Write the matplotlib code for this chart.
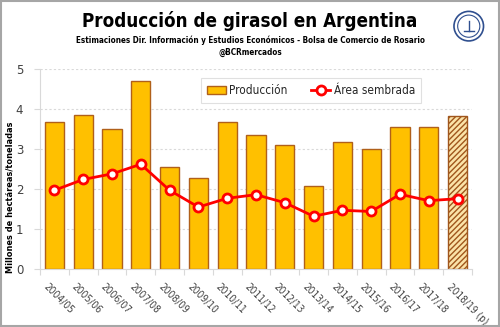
import matplotlib
matplotlib.use("Agg")
import matplotlib.pyplot as plt
from matplotlib.patches import Rectangle, Circle
from matplotlib.font_manager import fontManager, FontProperties
import matplotlib.transforms as mtransforms
import numpy as np

campaigns = ["2004/05", "2005/06", "2006/07", "2007/08", "2008/09", "2009/10", "2010/11",
             "2011/12", "2012/13", "2013/14", "2014/15", "2015/16", "2016/17", "2017/18",
             "2018/19 (p)"]
produccion = [3.68, 3.86, 3.51, 4.71, 2.54, 2.27, 3.68, 3.34, 3.11, 2.07, 3.17, 3.01, 3.56, 3.55, 3.82]
area = [1.97, 2.24, 2.38, 2.62, 1.97, 1.55, 1.77, 1.86, 1.66, 1.32, 1.47, 1.44, 1.87, 1.71, 1.76]
yticks = [0, 1, 2, 3, 4, 5]

# find condensed fonts if available
def find_cond(bold):
    out = []
    for f in fontManager.ttflist:
        nm = f.name
        cond = ("Narrow" in nm) or ("Condensed" in nm) or (str(f.stretch) in ("condensed", "semi-condensed", "extra-condensed"))
        w = f.weight if isinstance(f.weight, int) else (700 if "bold" in str(f.weight).lower() else 400)
        ok_w = (w >= 600) if bold else (w < 600)
        if cond and ok_w and "Oblique" not in f.fname and "Italic" not in f.fname:
            out.append(f.fname)
    out.sort()
    return out

cb = find_cond(True)
cr = find_cond(False)
def bfont(size):
    if cb:
        return FontProperties(fname=cb[0], size=size)
    return FontProperties(family="DejaVu Sans", weight="bold", size=size * 0.9)
def rfont(size):
    if cr:
        return FontProperties(fname=cr[0], size=size)
    return FontProperties(family="DejaVu Sans", size=size * 0.9)

fig = plt.figure(figsize=(5.0, 3.27), dpi=100)
fig.patches.append(Rectangle((0.002, 0.003), 0.996, 0.994, transform=fig.transFigure,
                             fill=False, edgecolor="#a6a6a6", linewidth=1.5))
ax = fig.add_axes([0.08, 0.177, 0.864, 0.612])

x = np.arange(len(campaigns))
bars = ax.bar(x, produccion, width=0.66, color="#FFC000", edgecolor="#B0601A",
              linewidth=1.0, label="Producción", zorder=2)
bars[-1].set_facecolor("#FBE3A8")
bars[-1].set_hatch("//////")
bars[-1].set_edgecolor("#A0561C")
line, = ax.plot(x, area, color="#FF0000", linewidth=2.0, marker="o", markersize=6.5,
                markerfacecolor="white", markeredgecolor="#FF0000", markeredgewidth=2.0,
                label="Área sembrada", zorder=3)

ax.set_xlim(-0.5, len(campaigns) - 0.5)
ax.set_ylim(0, 5)
ax.set_yticks(yticks)
ax.yaxis.grid(True, linestyle=(0, (2, 2)), color="#d9d9d9", linewidth=0.8, zorder=0)
ax.set_axisbelow(True)
for s in ["top", "right"]:
    ax.spines[s].set_visible(False)
ax.spines["left"].set_color("#d9d9d9")
ax.spines["bottom"].set_color("#d9d9d9")
ax.tick_params(axis="y", length=4, color="#d9d9d9", labelsize=8.5, labelcolor="#404040", pad=8)
ax.tick_params(axis="x", length=4, color="#d9d9d9")
ax.set_xticks(np.arange(len(campaigns) + 1) - 0.5, minor=False)
ax.set_xticklabels([])
ax.set_xticks(x, minor=True)
ax.set_xticklabels(campaigns, minor=True, rotation=-45, ha="left", rotation_mode="anchor",
                   fontproperties=rfont(7.3), color="#404040")
ax.tick_params(axis="x", which="minor", length=0, pad=9)
offset = mtransforms.ScaledTranslation(-6 / 100, 0, fig.dpi_scale_trans)
for lab in ax.xaxis.get_minorticklabels():
    lab.set_transform(lab.get_transform() + offset)
ax.set_ylabel("Millones de hectáreas/toneladas", fontproperties=bfont(6.6), color="#000000")
ax.yaxis.set_label_coords(-0.058, 0.36)

leg = ax.legend(handles=[bars, line], labels=["Producción", "Área sembrada"],
                loc="upper center", bbox_to_anchor=(0.627, 0.985), ncol=2,
                prop=rfont(8.5),
                frameon=True, fancybox=False, edgecolor="#d9d9d9", handlelength=1.6,
                handletextpad=0.3, columnspacing=2.0, borderpad=0.5)
leg.get_frame().set_linewidth(0.8)
for t in leg.get_texts():
    t.set_color("#262626")

fig.text(0.5, 0.937, "Producción de girasol en Argentina", ha="center", va="center",
         fontproperties=bfont(13.5))
fig.text(0.5, 0.877, "Estimaciones Dir. Información y Estudios Económicos - Bolsa de Comercio de Rosario",
         ha="center", va="center", fontproperties=bfont(5.9))
fig.text(0.5, 0.84, "@BCRmercados", ha="center", va="center", fontproperties=bfont(5.9))

# simple logo
lax = fig.add_axes([0.905, 0.87, 0.065, 0.1])
lax.set_aspect("equal")
lax.axis("off")
lax.add_patch(Circle((0, 0), 1, fill=False, edgecolor="#2f4f8f", linewidth=1.2))
lax.add_patch(Circle((0, 0), 0.75, fill=False, edgecolor="#2f4f8f", linewidth=0.8))
lax.plot([-0.35, 0.35], [-0.3, -0.3], color="#2f4f8f", linewidth=1)
lax.plot([0, 0], [-0.3, 0.35], color="#2f4f8f", linewidth=1)
lax.set_xlim(-1.1, 1.1)
lax.set_ylim(-1.1, 1.1)

fig.savefig("out.png", dpi=100)
